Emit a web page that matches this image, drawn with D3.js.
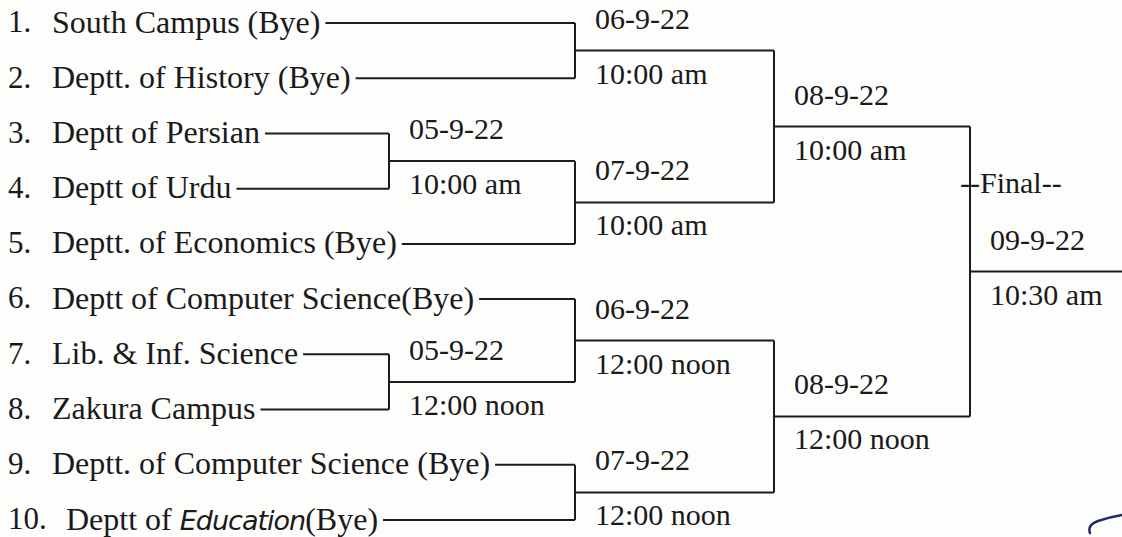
<!DOCTYPE html>
<html>
<head>
<meta charset="utf-8">
<script src="https://cdn.jsdelivr.net/npm/d3@7"></script>
<style>
  html, body { margin: 0; padding: 0; background: #fdfdfc; }
  svg { display: block; }
  text { fill: #1a1a1a; }
</style>
</head>
<body>
<svg id="chart"></svg>
<script>
// Fixture sheet: teams, then who plays whom and when.
var teamNumbers = ["1.", "2.", "3.", "4.", "5.", "6.", "7.", "8.", "9.", "10."];
var teamNames = [
    "South Campus (Bye)",
    "Deptt. of History (Bye)",
    "Deptt of Persian",
    "Deptt of Urdu",
    "Deptt. of Economics (Bye)",
    "Deptt of Computer Science(Bye)",
    "Lib. & Inf. Science",
    "Zakura Campus",
    "Deptt. of Computer Science (Bye)",
    "Deptt of Education(Bye)"
];
var handwritten = ["Education"];  // word written in by hand on the sheet

// Matches. Sides are "t<n>" for team n (1-based) or the id of an earlier match.
var matchIds    = ["P1", "P2", "Q1", "Q2", "Q3", "Q4", "S1", "S2", "F"];
var matchRound  = [1, 1, 2, 2, 2, 2, 3, 3, 4];
var matchHome   = ["t3", "t7", "t1", "t5", "t6", "t9", "Q1", "Q3", "S1"];
var matchAway   = ["t4", "t8", "t2", "P1", "P2", "t10", "Q2", "Q4", "S2"];
var matchDates  = ["05-9-22", "05-9-22", "06-9-22", "07-9-22", "06-9-22", "07-9-22", "08-9-22", "08-9-22", "09-9-22"];
var matchTimes  = ["10:00 am", "12:00 noon", "10:00 am", "10:00 am", "12:00 noon", "12:00 noon", "10:00 am", "12:00 noon", "10:30 am"];
var finalTitle  = "--Final--";

var width = 1122;
var height = 537;
var serif = "'Liberation Serif', 'DejaVu Serif', serif";

var svg = d3.select("#chart")
    .attr("width", width)
    .attr("height", height);

// Rows for teams, columns for rounds.
var y = d3.scalePoint().domain(d3.range(teamNames.length)).range([23, 520]);
var x = d3.scaleOrdinal().domain([1, 2, 3, 4]).range([389, 575, 774, 970]);

// Which round a team first plays in -> where its line ends.
var firstRound = {};
matchIds.forEach(function (id, i) {
    [matchHome[i], matchAway[i]].forEach(function (s) {
        if (s[0] === "t") firstRound[s] = matchRound[i];
    });
});

var lineColor = "#1c1c1c";
var lines = svg.append("g")
    .attr("fill", "none")
    .attr("stroke", lineColor)
    .attr("stroke-width", 2);

// Team labels
var rows = svg.append("g").selectAll("g.team")
    .data(teamNames)
    .enter().append("g").attr("class", "team");

rows.append("text")
    .attr("x", 8)
    .attr("y", function (d, i) { return y(i); })
    .attr("dy", "0.3em")
    .attr("font-family", serif)
    .attr("font-size", 31)
    .text(function (d, i) { return teamNumbers[i]; });

var names = rows.append("text")
    .attr("class", "name")
    .attr("x", function (d, i) { return i === 9 ? 66 : 52; })
    .attr("y", function (d, i) { return y(i); })
    .attr("dy", "0.3em")
    .attr("font-family", serif)
    .attr("font-size", 32);

names.each(function (d) {
    var t = d3.select(this);
    // split so a handwritten word can get its own style
    var parts = d.split(new RegExp("(" + handwritten.join("|") + ")"));
    parts.forEach(function (p) {
        if (!p) return;
        var span = t.append("tspan").text(p);
        if (handwritten.indexOf(p) >= 0) {
            span.attr("font-family", "'DejaVu Sans', sans-serif")
                .attr("font-style", "italic")
                .attr("font-size", 27)
                .attr("letter-spacing", -1);
        }
    });
});

// team leader lines: from end of the name to the column of their first match
var side = {};
names.each(function (d, i) {
    var box = this.getBBox();
    var key = "t" + (i + 1);
    var yy = y(i);
    var x0 = box.x + box.width + 5;
    var x1 = x(firstRound[key]);
    lines.append("line")
        .attr("x1", x0).attr("x2", x1)
        .attr("y1", yy).attr("y2", yy);
    side[key] = yy;
});

// Matches in round order: vertical join, winner line, date above and time below.
var labels = svg.append("g")
    .attr("font-family", serif)
    .attr("font-size", 30);

matchIds.forEach(function (id, i) {
    var r = matchRound[i];
    var a = side[matchHome[i]];
    var b = side[matchAway[i]];
    var jx = x(r);
    var out = (a + b) / 2;
    var nextX = r < 4 ? x(r + 1) : width;

    lines.append("line")
        .attr("x1", jx).attr("x2", jx)
        .attr("y1", a).attr("y2", b);
    lines.append("line")
        .attr("x1", jx).attr("x2", nextX)
        .attr("y1", out).attr("y2", out);

    labels.append("text")
        .attr("x", jx + 20)
        .attr("y", out - 22)
        .text(matchDates[i]);
    labels.append("text")
        .attr("x", jx + 20)
        .attr("y", out + 33)
        .text(matchTimes[i]);

    if (r === 4) {
        labels.append("text")
            .attr("x", jx - 10)
            .attr("y", out - 79)
            .text(finalTitle);
    }

    side[id] = out;
});

// little blue pen mark in the corner of the sheet
svg.append("path")
    .attr("d", "M" + (width - 32) + "," + (height - 4) + " q-3,-8 8,-12 q12,-4 24,-6")
    .attr("fill", "none")
    .attr("stroke", "#1f2a6b")
    .attr("stroke-width", 2.5)
    .attr("stroke-linecap", "round");
</script>
</body>
</html>
